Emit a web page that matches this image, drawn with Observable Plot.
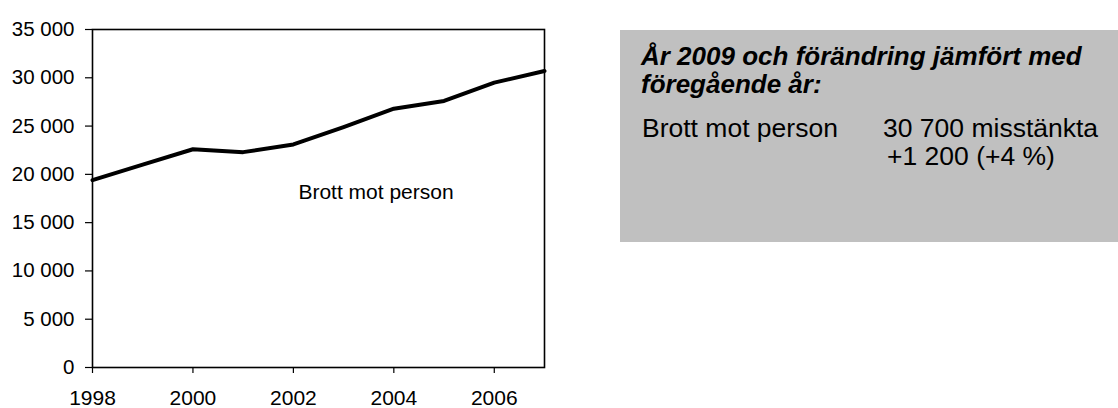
<!DOCTYPE html>
<html>
<head>
<meta charset="utf-8">
<script src="https://cdn.jsdelivr.net/npm/d3@7"></script>
<script src="https://cdn.jsdelivr.net/npm/@observablehq/plot@0.6"></script>
<style>
  html, body { margin: 0; padding: 0; background: #fff; }
  #wrap { position: relative; width: 1118px; height: 408px; overflow: hidden; }
  #wrap svg { position: absolute; left: 0; top: 0; }
  text { font-family: "Liberation Sans", Arial, sans-serif; }
</style>
</head>
<body>
<div id="wrap"></div>
<script>
// ---- data ----
const years = [1998, 1999, 2000, 2001, 2002, 2003, 2004, 2005, 2006, 2007];
const values = [19400, 21000, 22600, 22300, 23100, 24900, 26800, 27600, 29500, 30700];
const xTicks = [1998, 2000, 2002, 2004, 2006];
const yTicks = [0, 5000, 10000, 15000, 20000, 25000, 30000, 35000];
const seriesLabel = ["Brott mot person"];
const seriesLabelAt = [{year: 2002.1, value: 17400}];
const boxTitle = ["År 2009 och förändring jämfört med", "föregående år:"];
const boxRowLabel = ["Brott mot person"];
const boxRowValues = ["30 700 misstänkta", "+1 200 (+4 %)"];

const data = years.map((y, i) => ({year: y, value: values[i]}));
const fmt = d3.formatLocale({thousands: "\u00a0", grouping: [3], decimal: ","}).format(",d");
const font = '"Liberation Sans", Arial, sans-serif';

const chart = Plot.plot({
  width: 1118,
  height: 408,
  marginLeft: 92,
  marginRight: 574,
  marginTop: 29,
  marginBottom: 41,
  style: {fontFamily: font, color: "#000", background: "transparent"},
  x: {domain: [1998, 2007]},
  y: {domain: [0, 35000]},
  marks: [
    Plot.axisY({ticks: yTicks, tickFormat: fmt, tickSize: 7, tickPadding: 11, fontSize: 20.5, label: null, stroke: "#000", strokeWidth: 1.2}),
    Plot.axisX({ticks: xTicks, tickFormat: d => String(d), tickSize: 6, tickPadding: 17, fontSize: 21, label: null, stroke: "#000", strokeWidth: 1.2}),
    Plot.frame({stroke: "#000", strokeWidth: 1.6}),
    Plot.line(data, {x: "year", y: "value", stroke: "#000", strokeWidth: 4, strokeLinejoin: "round"}),
    Plot.text(seriesLabelAt, {x: "year", y: "value", text: () => seriesLabel[0], textAnchor: "start", lineAnchor: "bottom", fontSize: 21, fill: "#000"})
  ]
});
document.getElementById("wrap").appendChild(chart);

// ---- info box ----
const ns = "http://www.w3.org/2000/svg";
const box = d3.select("#wrap").append("svg")
  .attr("xmlns", ns).attr("width", 1118).attr("height", 408)
  .style("pointer-events", "none");
box.append("rect").attr("x", 620).attr("y", 30).attr("width", 498).attr("height", 212).attr("fill", "#c0c0c0");
function addText(str, x, y, bold, size) {
  const t = box.append("text").attr("x", x).attr("y", y).text(str)
    .attr("font-family", font).attr("font-size", size).attr("fill", "#000");
  if (bold) t.attr("font-weight", "bold").attr("font-style", "italic");
}
addText(boxTitle[0], 641, 65, true, 26);
addText(boxTitle[1], 641, 93, true, 26);
addText(boxRowLabel[0], 642, 136.5, false, 26.5);
addText(boxRowValues[0], 883, 136.5, false, 26.5);
addText(boxRowValues[1], 887, 165, false, 26.5);
</script>
</body>
</html>
